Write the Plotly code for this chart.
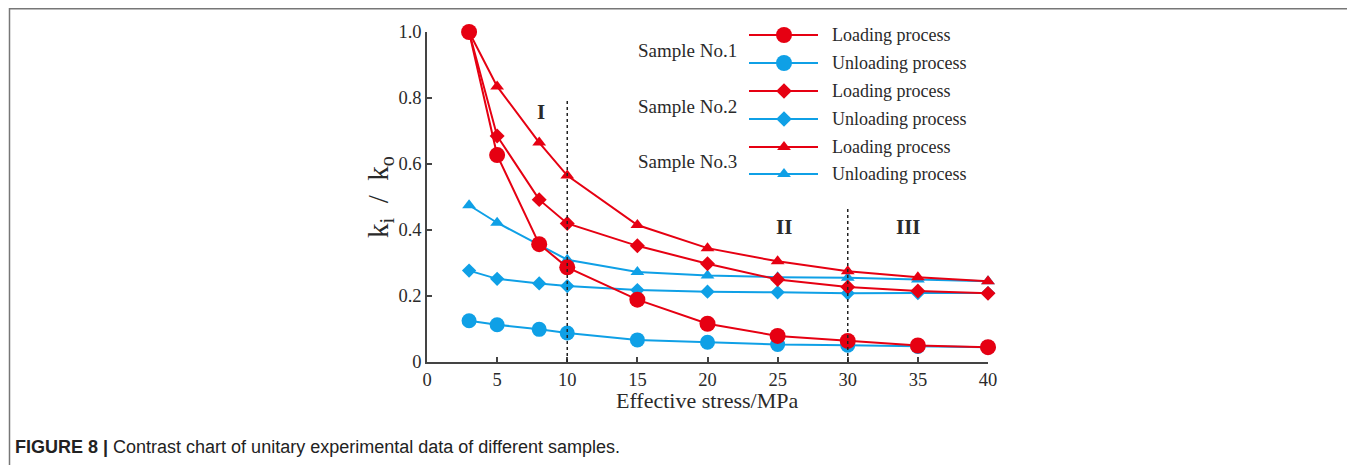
import plotly.graph_objects as go

# ---------------- data ----------------
stress = [3, 5, 8, 10, 15, 20, 25, 30, 35, 40]
s1_loading = [1.0, 0.627, 0.357, 0.287, 0.189, 0.116, 0.079, 0.064, 0.050, 0.045]
s1_unloading = [0.125, 0.113, 0.099, 0.088, 0.067, 0.060, 0.053, 0.051, 0.047, 0.045]
s2_loading = [1.0, 0.685, 0.492, 0.420, 0.352, 0.298, 0.250, 0.227, 0.215, 0.208]
s2_unloading = [0.277, 0.252, 0.238, 0.230, 0.218, 0.213, 0.211, 0.208, 0.209, 0.209]
s3_loading = [1.0, 0.835, 0.665, 0.565, 0.415, 0.345, 0.305, 0.275, 0.257, 0.245]
s3_unloading = [0.475, 0.422, 0.355, 0.310, 0.273, 0.262, 0.257, 0.255, 0.250, 0.245]
sample_names = ["Sample No.1", "Sample No.2", "Sample No.3"]
process_names = ["Loading process", "Unloading process"]
x_ticks = [0, 5, 10, 15, 20, 25, 30, 35, 40]
y_ticks = [0, 0.2, 0.4, 0.6, 0.8, 1.0]
y_tick_text = ["0", "0.2", "0.4", "0.6", "0.8", "1.0"]
stage_labels = ["I", "II", "III"]
boundaries = [10, 30]
x_title = "Effective stress/MPa"
y_title = "k<sub>i</sub>  /  k<sub>o</sub>"
caption = "<b>FIGURE 8 |</b> Contrast chart of unitary experimental data of different samples."

# ---------------- style ----------------
RED = "#e60012"
BLUE = "#0fa0e6"
SERIF = "Liberation Serif"
TXT = "#2a2a2a"
OFF = 8                      # page body margin
W, H = 1355 - OFF, 465 - OFF
L, T = 427 - OFF, 32 - OFF
R = W - (988 - OFF)
B = H - (362 - OFF)
PW, PH = W - L - R, H - T - B

def px(xp):   # reference page pixel -> paper
    return (xp - OFF - L) / PW

def py(yp):
    return (H - B - (yp - OFF)) / PH

fig = go.Figure()

series = [
    (s1_unloading, BLUE, "circle", 15),
    (s2_unloading, BLUE, "diamond", 11),
    (s3_unloading, BLUE, "triangle-up", 12),
    (s1_loading, RED, "circle", 16),
    (s2_loading, RED, "diamond", 11.5),
    (s3_loading, RED, "triangle-up", 12),
]
for vals, col, sym, size in series:
    fig.add_trace(go.Scatter(
        x=stress, y=vals, mode="lines+markers",
        line=dict(color=col, width=2),
        marker=dict(color=col, symbol=sym, size=size, line=dict(width=0)),
        cliponaxis=False, showlegend=False, hoverinfo="skip"))

# boundary dotted lines
for bx, top in zip(boundaries, [0.795, 0.467]):
    fig.add_shape(type="line", xref="x", yref="y", x0=bx, x1=bx, y0=0, y1=top,
                  line=dict(color="#222", width=1.5, dash="3px,3px"))

# stage labels
for lab, lx, ly in zip(stage_labels, [8.1, 25.45, 34.3], [0.758, 0.408, 0.408]):
    fig.add_annotation(x=lx, y=ly, xref="x", yref="y", text="<b>%s</b>" % lab,
                       showarrow=False, font=dict(family=SERIF, size=21, color=TXT))

# ---------------- custom legend (overlay axis in reference pixel units) ----------------
rows_y = [35, 63, 91, 119, 147, 174]
leg_sym = ["circle", "diamond", "triangle-up"]
leg_size = [16, 12, 12]
for i, name in enumerate(sample_names):
    fig.add_annotation(xref="paper", yref="paper", x=px(687),
                       y=py((rows_y[2 * i] + rows_y[2 * i + 1]) / 2 + 1),
                       text=name, showarrow=False, xanchor="center", yanchor="middle",
                       font=dict(family=SERIF, size=19, color=TXT))
    for j, proc in enumerate(process_names):
        yy = rows_y[2 * i + j]
        col = [RED, BLUE][j]
        fig.add_shape(type="line", xref="paper", yref="paper", x0=px(749), x1=px(818),
                      y0=py(yy), y1=py(yy), line=dict(color=col, width=2))
        fig.add_trace(go.Scatter(x=[784], y=[yy], xaxis="x2", yaxis="y2", mode="markers",
                                 marker=dict(color=col, symbol=leg_sym[i], size=leg_size[i], line=dict(width=0)),
                                 cliponaxis=False, showlegend=False, hoverinfo="skip"))
        fig.add_annotation(xref="paper", yref="paper", x=px(830), y=py(yy), text=proc,
                           showarrow=False, xanchor="left", yanchor="middle",
                           font=dict(family=SERIF, size=18, color=TXT))

# axis titles
fig.add_annotation(xref="paper", yref="paper", x=px(707), y=py(400), text=x_title,
                   showarrow=False, xanchor="center", yanchor="middle",
                   font=dict(family=SERIF, size=22, color=TXT))
fig.add_annotation(xref="paper", yref="paper", x=px(380), y=py(197), text=y_title,
                   showarrow=False, xanchor="center", yanchor="middle", textangle=-90,
                   font=dict(family=SERIF, size=29, color=TXT))

# figure border & caption
fig.add_shape(type="rect", xref="paper", yref="paper", x0=px(9.5), x1=px(1353.5), y0=py(8.8), y1=py(490),
              line=dict(color="#777", width=1.5))
fig.add_annotation(xref="paper", yref="paper", x=px(13), y=py(447), xanchor="left", yanchor="middle",
                   showarrow=False, text=caption,
                   font=dict(family="Liberation Sans", size=18, color="#222"))

axis_common = dict(showgrid=False, zeroline=False, showline=True, linecolor="#444", linewidth=1.5,
                   ticks="inside", ticklen=5, tickwidth=1.5, tickcolor="#444",
                   tickfont=dict(family=SERIF, size=18.5, color=TXT))
fig.update_layout(
    width=W, height=H, margin=dict(l=L, r=R, t=T, b=B, autoexpand=False),
    paper_bgcolor="white", plot_bgcolor="white",
    xaxis=dict(range=[0, 40], tickvals=x_ticks, ticktext=[str(v) for v in x_ticks], **axis_common),
    yaxis=dict(range=[0, 1.0], tickvals=y_ticks, ticktext=y_tick_text, **axis_common),
    xaxis2=dict(overlaying="x", range=[L + OFF, W - R + OFF], visible=False),
    yaxis2=dict(overlaying="y", range=[H - B + OFF, T + OFF], visible=False),
)

fig.write_html("out.html")
